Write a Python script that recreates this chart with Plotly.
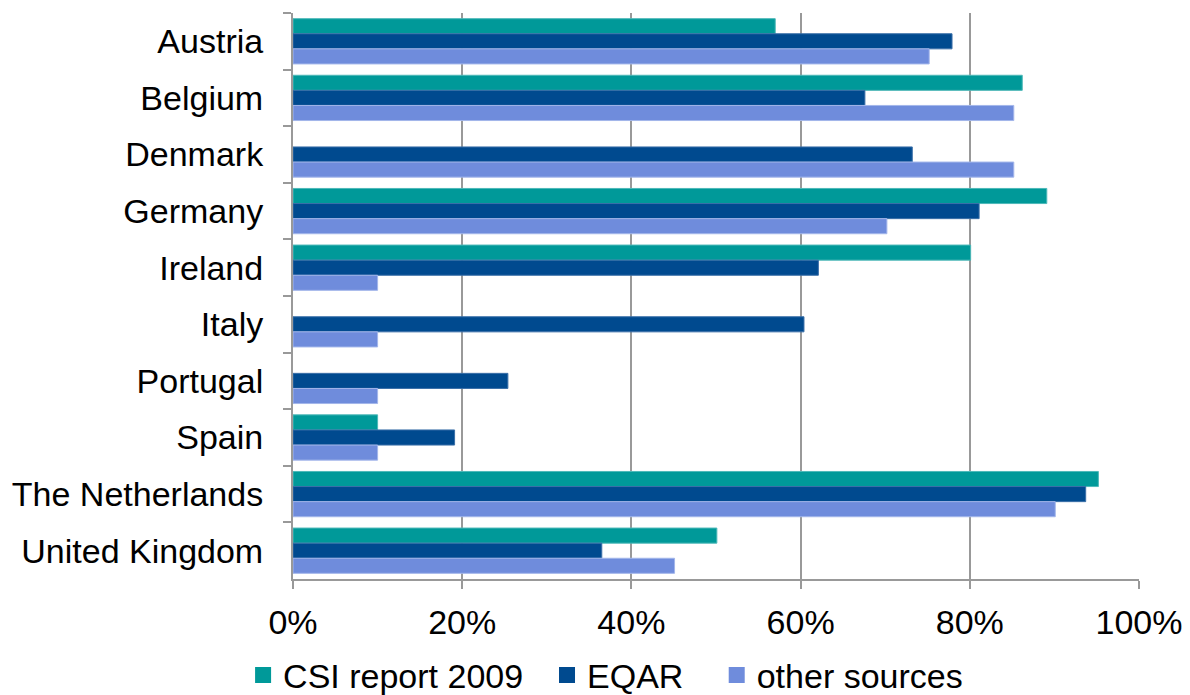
import plotly.graph_objects as go

countries = ["Austria", "Belgium", "Denmark", "Germany", "Ireland", "Italy",
             "Portugal", "Spain", "The Netherlands", "United Kingdom"]
csi_2009 = [0.57, 0.862, None, 0.891, 0.801, None, None, 0.10, 0.952, 0.501]
eqar = [0.779, 0.676, 0.732, 0.811, 0.621, 0.604, 0.254, 0.191, 0.937, 0.365]
other_sources = [0.752, 0.852, 0.852, 0.702, 0.10, 0.10, 0.10, 0.10, 0.901, 0.451]
series_names = ["CSI report 2009", "EQAR", "other sources"]

colors = [("#009999", "#4db8b8"), ("#004a8f", "#3a6fa8"), ("#6f8cdc", "#a3b6ea")]
values = [csi_2009, eqar, other_sources]

fig = go.Figure()
for name, vals, (col, lcol) in zip(series_names, values, colors):
    fig.add_trace(go.Bar(
        y=countries, x=vals, name=name, orientation="h", showlegend=False,
        legendgroup=name,
        marker=dict(color=col, line=dict(color=lcol, width=1)),
    ))
# legend entries with larger square swatches (extra trailing spacing between entries)
pads = ["\u00a0\u00a0", "\u00a0\u00a0\u00a0", ""]
for name, (col, lcol), pad in zip(series_names, colors, pads):
    fig.add_trace(go.Scatter(
        x=[None], y=[None], mode="markers", name=name + pad, legendgroup=name,
        marker=dict(symbol="square", size=18, color=col),
        showlegend=True,
    ))

font_family = "Liberation Sans, Arial, sans-serif"
fig.update_layout(
    width=1190, height=695,
    margin=dict(l=285, r=59, t=5, b=124, autoexpand=False),
    paper_bgcolor="white", plot_bgcolor="white",
    barmode="group", bargap=0.2, bargroupgap=0,
    font=dict(family=font_family, size=34, color="black"),
    showlegend=True,
    legend=dict(orientation="h", x=-0.059, xanchor="left", y=-0.119, yanchor="top",
                font=dict(size=34), traceorder="normal", itemwidth=30,
                itemsizing="trace"),
    xaxis=dict(range=[0, 1], tickvals=[0, 0.2, 0.4, 0.6, 0.8, 1.0],
               tickformat=".0%", showgrid=True, gridcolor="#999999", gridwidth=2,
               zeroline=False, showline=True, linecolor="#999999", linewidth=2,
               ticks="outside", ticklen=8, tickcolor="#999999", tickwidth=2,
               ticklabelstandoff=4, tickfont=dict(size=34), automargin=False),
    yaxis=dict(autorange="reversed", showline=True, linecolor="#999999", linewidth=2,
               ticks="outside", tickson="boundaries", ticklen=8, tickcolor="#999999",
               tickwidth=2, showgrid=False, tickfont=dict(size=34),
               ticklabelstandoff=21, automargin=False),
)

fig.write_html("out.html")
